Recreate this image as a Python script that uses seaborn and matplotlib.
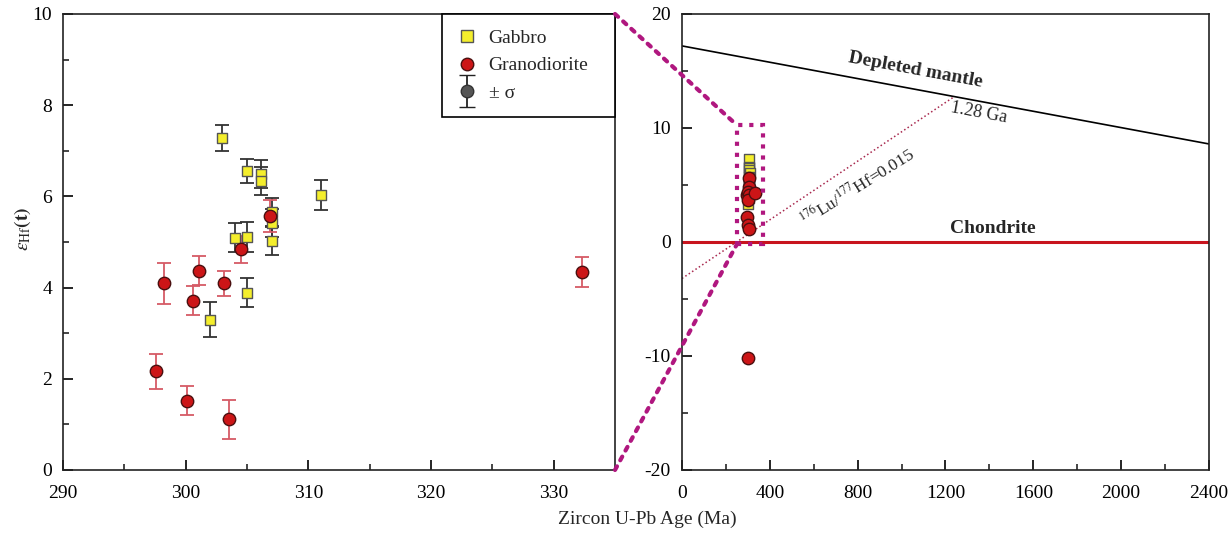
import numpy as np
import pandas as pd
import matplotlib
matplotlib.use('Agg')
import matplotlib.pyplot as plt
import seaborn as sns
from matplotlib.lines import Line2D
from matplotlib.patches import Rectangle, ConnectionPatch
from matplotlib.container import ErrorbarContainer
from matplotlib.legend_handler import HandlerErrorbar

# zircon U-Pb age (Ma) and eHf(t) with 1 sigma
gab_age = [303.0, 305.0, 306.1, 306.1, 311.0, 307.0, 307.0, 307.0, 304.0, 305.0, 305.0, 302.0]
gab_ehf = [7.28, 6.56, 6.49, 6.34, 6.03, 5.66, 5.42, 5.02, 5.09, 5.11, 3.89, 3.30]
gab_err = [0.29, 0.27, 0.30, 0.30, 0.32, 0.30, 0.30, 0.31, 0.32, 0.32, 0.31, 0.38]

gd_age = [306.9, 304.5, 298.2, 301.1, 303.1, 300.6, 297.6, 300.1, 303.5, 332.3, 298.5]
gd_ehf = [5.57, 4.84, 4.09, 4.37, 4.09, 3.71, 2.16, 1.52, 1.11, 4.34, -10.2]
gd_err = [0.35, 0.30, 0.45, 0.32, 0.27, 0.32, 0.38, 0.32, 0.43, 0.33, 0.40]

# reference evolution lines
dm_age = [0, 2400]
dm_ehf = [17.2, 8.6]
luhf_age = [0, 1240]
luhf_ehf = [-3.2, 12.75]

gab = pd.DataFrame({'age': gab_age, 'ehf': gab_ehf, 'err': gab_err})
gd = pd.DataFrame({'age': gd_age, 'ehf': gd_ehf, 'err': gd_err})

sns.set_style('ticks')
plt.rcParams['font.family'] = ['Liberation Serif', 'DejaVu Serif']
plt.rcParams['mathtext.fontset'] = 'stix'
plt.rcParams['axes.unicode_minus'] = False

yellow = '#f4ee2c'
red = '#cc1517'
magenta = '#b0177f'

fig = plt.figure(figsize=(12.31, 5.38), dpi=100)
ax1 = fig.add_axes([0.0512, 0.1264, 0.4484, 0.8476])
ax2 = fig.add_axes([0.5540, 0.1264, 0.4281, 0.8476])

# left panel
ax1.errorbar(gab['age'], gab['ehf'], yerr=gab['err'], fmt='none', ecolor='#333333',
             elinewidth=1.3, capsize=5, capthick=1.3, zorder=2)
ax1.errorbar(gd['age'], gd['ehf'], yerr=gd['err'], fmt='none', ecolor='#d65a66',
             elinewidth=1.3, capsize=5, capthick=1.3, zorder=2)
sns.scatterplot(data=gab, x='age', y='ehf', marker='s', color=yellow, edgecolor='#555555',
                linewidth=1, s=62, ax=ax1, zorder=3, legend=False)
sns.scatterplot(data=gd, x='age', y='ehf', marker='o', color=red, edgecolor='#4a1010',
                linewidth=1, s=80, ax=ax1, zorder=4, legend=False)

ax1.set_xlim(290, 335)
ax1.set_ylim(0, 10)
ax1.set_xticks(np.arange(290, 331, 10))
ax1.set_xticks(np.arange(295, 335, 10), minor=True)
ax1.set_yticks(np.arange(0, 11, 2))
ax1.set_yticks(np.arange(1, 10, 2), minor=True)
ax1.set_xlabel('')
ax1.set_ylabel(r'$\varepsilon_{\rm Hf}\mathbf{(t)}$', fontsize=14)
ax1.yaxis.set_label_coords(-0.054, 0.53)

eb = ax1.errorbar([np.nan], [np.nan], yerr=[0.3], fmt='o', color='#555555', mec='#333333',
                  ecolor='#222222', ms=9, capsize=6, elinewidth=1.3)
h_gab = Line2D([], [], marker='s', ls='none', mfc=yellow, mec='#555555', ms=8)
h_gd = Line2D([], [], marker='o', ls='none', mfc=red, mec='#4a1010', ms=9)
leg = ax1.legend([h_gab, h_gd, eb], ['Gabbro', 'Granodiorite', '± σ'],
                 loc='upper left', bbox_to_anchor=(0.6866, 1.0, 0.3134, 0.0), mode='expand',
                 borderaxespad=0, fancybox=False, framealpha=1, edgecolor='black',
                 fontsize=14, handlelength=1.0, handletextpad=0.6, labelspacing=0.5,
                 borderpad=0.8,
                 handler_map={ErrorbarContainer: HandlerErrorbar(xerr_size=0.4, yerr_size=0.8)})
leg.get_frame().set_linewidth(1.2)

# right panel
ax2.plot(dm_age, dm_ehf, color='black', lw=1.2)
ax2.plot(luhf_age, luhf_ehf, color='#a8284e', lw=1.1, ls=':')
ax2.axhline(0, color='#c8141e', lw=2.2)
sns.scatterplot(data=gab, x='age', y='ehf', marker='s', color=yellow, edgecolor='#555555',
                linewidth=1, s=62, ax=ax2, zorder=3, legend=False)
sns.scatterplot(data=gd, x='age', y='ehf', marker='o', color=red, edgecolor='#4a1010',
                linewidth=1, s=80, ax=ax2, zorder=4, legend=False)

ax2.set_xlim(0, 2400)
ax2.set_ylim(-20, 20)
ax2.set_xticks(np.arange(0, 2401, 400))
ax2.set_xticks(np.arange(200, 2400, 400), minor=True)
ax2.set_yticks(np.arange(-20, 21, 10))
ax2.set_yticks(np.arange(-15, 20, 10), minor=True)
ax2.set_xlabel('')
ax2.set_ylabel('')

ax2.text(1061, 15.1, 'Depleted mantle', fontsize=14, fontweight='bold', rotation=-10.5,
         ha='center', va='center')
ax2.text(1350, 11.3, '1.28 Ga', fontsize=13, rotation=-10.5, ha='center', va='center')
ax2.text(800, 4.8, r'$^{176}$Lu/$^{177}$Hf=0.015', fontsize=12.5, rotation=32,
         ha='center', va='center')
ax2.text(1416, 0.4, 'Chondrite', fontsize=14, fontweight='bold', ha='center', va='bottom')

rect = Rectangle((250, -0.2), 120, 10.45, fill=False, ls=':', ec=magenta, lw=3,
                 zorder=5, clip_on=False)
ax2.add_patch(rect)
for ya, yb in [(1, 10.25), (0, -0.2)]:
    con = ConnectionPatch(xyA=(1, ya), coordsA=ax1.transAxes, xyB=(250, yb),
                          coordsB=ax2.transData, ls=':', color=magenta, lw=3)
    fig.add_artist(con)

for ax in (ax1, ax2):
    ax.tick_params(axis='both', which='major', direction='in', length=7, width=1.2,
                   labelsize=14, colors='black')
    ax.tick_params(axis='x', which='major', pad=11)
    ax.tick_params(axis='y', which='major', pad=8)
    ax.tick_params(axis='both', which='minor', direction='in', length=4, width=1.2)
    for sp in ax.spines.values():
        sp.set_visible(True)
        sp.set_linewidth(1.2)
        sp.set_color('#222222')

fig.text(0.526, 0.035, 'Zircon U-Pb Age (Ma)', fontsize=14, ha='center', va='center')

fig.savefig('out.png', dpi=100)
